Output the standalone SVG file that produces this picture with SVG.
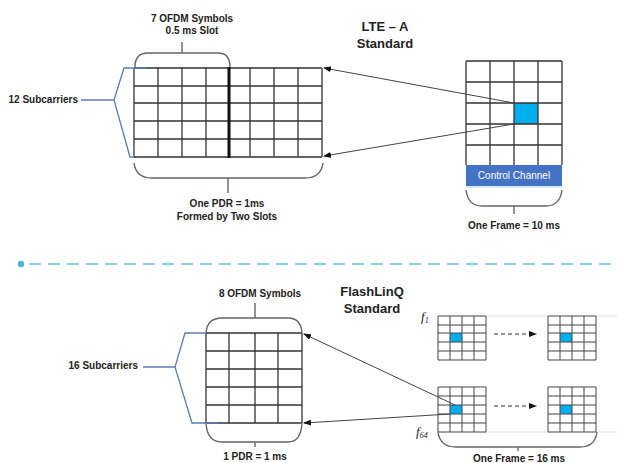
<svg xmlns="http://www.w3.org/2000/svg" width="617" height="463" viewBox="0 0 617 463">
<defs>
<style>
text{font-family:"Liberation Sans",Arial,sans-serif;fill:#222;}
.lbl{font-size:10px;font-weight:bold;text-anchor:middle;}
.ttl{font-size:13px;font-weight:bold;text-anchor:middle;}
.fi{font-family:"Liberation Serif","Times New Roman",serif;font-style:italic;font-size:13px;}
.fs{font-family:"Liberation Serif","Times New Roman",serif;font-size:8px;}
.grid{fill:none;stroke:#333;stroke-width:1.3;}
.sgrid{fill:none;stroke:#444;stroke-width:1;}
.brace{fill:none;stroke:#666;stroke-width:1.4;}
.blueb{fill:none;stroke:#5A7DB5;stroke-width:1.3;}
.cell{fill:#00AEEF;}
.arr{fill:none;stroke:#444;stroke-width:1;marker-end:url(#ah);}
.darr{fill:none;stroke:#333;stroke-width:1;stroke-dasharray:4 3;marker-end:url(#ah);}
.glin{fill:none;stroke:#ddd;stroke-width:1;}
</style>
<marker id="ah" markerWidth="8" markerHeight="6" refX="7" refY="3" orient="auto" markerUnits="userSpaceOnUse">
<path d="M0,0 L8,3 L0,6 Z" fill="#111"/>
</marker>
</defs>

<g id="lte-title">
<text class="ttl" x="385" y="31">LTE – A</text>
<text class="ttl" x="385" y="48">Standard</text>
</g>

<g id="lte-pdr-grid">
<path class="grid" d="M134,68H322M134,86H322M134,103H322M134,121H322M134,139H322M134,157H322M134,68V157M158,68V157M182,68V157M206,68V157M250,68V157M274,68V157M298,68V157M322,68V157"/>
<path d="M229,67V158" stroke="#111" stroke-width="3"/>
<path class="brace" d="M135,67 Q135,53 148,53 H218 Q230,53 230,67 M182,53 V42"/>
<path class="brace" d="M134,163 Q136,178 152,178 H305 Q321,178 323,163 M228,178 V193"/>
<path class="blueb" d="M146,68 H124 L114,100 L130,157 H134 M81,100 H114"/>
<text class="lbl" x="192" y="22">7 OFDM Symbols</text>
<text class="lbl" x="192" y="34">0.5 ms Slot</text>
<text class="lbl" x="78" y="103" style="text-anchor:end">12 Subcarriers</text>
<text class="lbl" x="227" y="207">One PDR = 1ms</text>
<text class="lbl" x="227" y="220">Formed by Two Slots</text>
</g>

<g id="lte-frame">
<rect class="cell" x="514" y="103" width="24" height="21"/>
<path class="grid" d="M466,61H562M466,82H562M466,103H562M466,124H562M466,145H562M466,61V165M490,61V165M514,61V165M538,61V165M562,61V165"/>
<rect x="466" y="165" width="96" height="21" fill="#4472C4"/>
<path d="M466,187H562" stroke="#A9D3EA" stroke-width="1.2"/>
<text x="514" y="178.5" style="font-size:10px;fill:#fff;text-anchor:middle">Control Channel</text>
<path class="brace" d="M466,190 Q468,206 482,206 H546 Q560,206 562,190 M514,206 V214"/>
<text class="lbl" x="514" y="229">One Frame = 10 ms</text>
</g>

<g id="separator">
<circle cx="21" cy="264" r="3.2" fill="#4FB3CF"/>
<path d="M21,264 H617" stroke="#62C2D9" stroke-width="1.6" stroke-dasharray="12 7" stroke-dashoffset="-8"/>
</g>

<g id="flashlinq-title">
<text class="ttl" x="372" y="296">FlashLinQ</text>
<text class="ttl" x="372" y="313">Standard</text>
</g>

<g id="flashlinq-pdr-grid">
<path class="grid" d="M206,333H302M206,351H302M206,369H302M206,387H302M206,405H302M206,423H302M206,333V423M229,333V423M255,333V423M278,333V423M302,333V423"/>
<path class="brace" d="M206,333 Q207,318 222,318 H288 Q301,318 302,333 M255,318 V303"/>
<path class="brace" d="M206,423 Q207,442 222,442 H288 Q301,442 302,423 M255,442 V447"/>
<path class="blueb" d="M206,333 H185 L175,367 L192,423 H218 M143,367 H175"/>
<text class="lbl" x="260" y="297">8 OFDM Symbols</text>
<text class="lbl" x="138" y="369" style="text-anchor:end">16 Subcarriers</text>
<text class="lbl" x="255" y="460">1 PDR = 1 ms</text>
</g>

<g id="flashlinq-frame">
<path class="glin" d="M486,316H548M596,316H617M486,432H548M596,432H617"/>
<g id="grid-f1-a">
<rect class="cell" x="450" y="333" width="12" height="9"/>
<path class="sgrid" d="M438,316H486M438,325H486M438,333H486M438,342H486M438,351H486M438,360H486M438,316V360M450,316V360M462,316V360M474,316V360M486,316V360"/>
</g>
<g id="grid-f1-b">
<rect class="cell" x="560" y="333" width="12" height="9"/>
<path class="sgrid" d="M548,316H596M548,325H596M548,333H596M548,342H596M548,351H596M548,360H596M548,316V360M560,316V360M572,316V360M584,316V360M596,316V360"/>
</g>
<g id="grid-f64-a">
<rect class="cell" x="450" y="405" width="12" height="9"/>
<path class="sgrid" d="M438,387H486M438,396H486M438,405H486M438,414H486M438,423H486M438,432H486M438,387V432M450,387V432M462,387V432M474,387V432M486,387V432"/>
</g>
<g id="grid-f64-b">
<rect class="cell" x="560" y="405" width="12" height="9"/>
<path class="sgrid" d="M548,387H596M548,396H596M548,405H596M548,414H596M548,423H596M548,432H596M548,387V432M560,387V432M572,387V432M584,387V432M596,387V432"/>
</g>
<text class="fi" x="421" y="321">f<tspan class="fs" dy="2">1</tspan></text>
<text class="fi" x="416" y="436">f<tspan class="fs" dy="2">64</tspan></text>
<path class="brace" d="M438,432 Q440,447 456,447 H580 Q595,447 597,432 M518,447 V451"/>
<text class="lbl" x="519" y="462">One Frame = 16 ms</text>
</g>

<g id="connectors">
<path class="arr" d="M514,103 L324,68"/>
<path class="arr" d="M514,124 L324,156"/>
<path class="arr" d="M455,405 L304,334"/>
<path class="arr" d="M450,414 L304,423"/>
<path class="darr" d="M494,334 H536"/>
<path class="darr" d="M494,406 H536"/>
</g>
</svg>
